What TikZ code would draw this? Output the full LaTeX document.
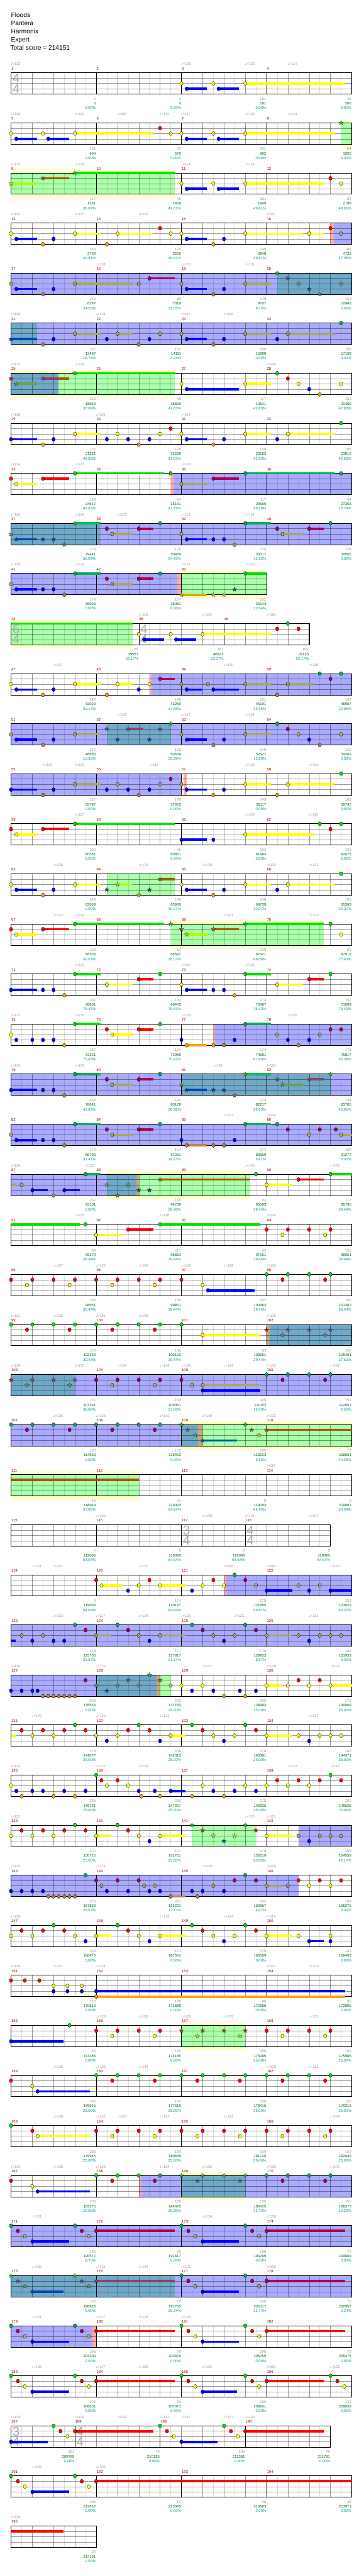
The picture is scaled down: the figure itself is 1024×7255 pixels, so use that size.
\documentclass[tikz,border=0pt]{standalone}
\usepackage{fontspec}
\setmainfont{Liberation Sans}
\newfontfamily\notefont{DejaVu Sans}

\definecolor{cG}{HTML}{00E000}
\definecolor{cR}{HTML}{FF0000}
\definecolor{cY}{HTML}{FFFF00}
\definecolor{cB}{HTML}{0000FF}
\definecolor{cO}{HTML}{FFA500}
\definecolor{dG}{HTML}{00B050}
\definecolor{dR}{HTML}{AA0050}
\definecolor{dY}{HTML}{A8A858}
\definecolor{dO}{HTML}{C08048}
\definecolor{sG}{HTML}{00E000}
\definecolor{sR}{HTML}{AA5500}
\definecolor{sY}{HTML}{AAFF00}
\definecolor{sB}{HTML}{0055AA}
\definecolor{sO}{HTML}{DDAA00}
\definecolor{tR}{HTML}{884466}
\definecolor{tY}{HTML}{6AA050}
\definecolor{tB}{HTML}{0044BB}
\definecolor{tO}{HTML}{887744}
\definecolor{tG}{HTML}{00C060}
\definecolor{rB}{HTML}{AAAAFF}
\definecolor{rT}{HTML}{70A8C8}
\definecolor{rG}{HTML}{AAFFAA}
\definecolor{rY}{HTML}{FFFFCC}
\definecolor{rP}{HTML}{FFAAAA}
\definecolor{rK}{HTML}{C8A878}
\definecolor{mred}{HTML}{990000}
\definecolor{tgray}{HTML}{999999}
\definecolor{sgreen}{HTML}{006600}
\definecolor{steal}{HTML}{009999}

\tikzset{
  mnum/.style={anchor=base west, inner sep=0pt, text=mred, font=\fontsize{10.5}{10.5}\selectfont},
  tempo/.style={anchor=base west, inner sep=0pt, text=tgray, font=\fontsize{10}{10}\selectfont},
  sc1/.style={anchor=base east, inner sep=0pt, text=tgray, font=\fontsize{10.5}{10.5}\selectfont},
  sc2/.style={anchor=base east, inner sep=0pt, text=sgreen, font=\fontsize{10.5}{10.5}\selectfont},
  sc3/.style={anchor=base east, inner sep=0pt, text=steal, font=\fontsize{10.5}{10.5}\selectfont},
  title/.style={anchor=base west, inner sep=0pt, font=\fontsize{18}{18}\selectfont},
  tsigtext/.style={inner sep=0pt, text=black!33, font=\fontsize{36}{36}\selectfont},
  eighthline/.style={black, opacity=0.13, line width=0.8pt},
  beatline/.style={black, opacity=0.4, line width=0.8pt},
  laneline/.style={black, opacity=0.4, line width=0.8pt},
  barline/.style={black, line width=0.8pt},
  staffframe/.style={black, line width=1.3pt},
}

\newcommand\row[2]{\begin{scope}[shift={(0,{205+141*(#1-1)})}]#2\end{scope}}
\newcommand\staff[2]{%
  \foreach \p in {2,6,...,#1} \draw[eighthline] ({31+15*\p},0) -- ({31+15*\p},60);
  \foreach \p in {4,8,...,#1} \draw[beatline] ({31+15*\p},0) -- ({31+15*\p},60);
  \foreach \k in {15,30,45} \draw[laneline] (31,\k) -- ({31+15*#1},\k);
  \foreach \p in {#2} \draw[barline] ({31+15*\p},0) -- ({31+15*\p},60);
  \draw[staffframe] (31,0) rectangle ({31+15*#1},60);}
\newcommand\region[3]{\fill[#1] ({31+15*#2},0) rectangle ({31+15*#3},60);}
\newcommand\band[2]{\fill[rY] ({31+15*#1},-10) rectangle ({31+15*#2},71);}
\newcommand\sustain[4]{\fill[#1] ({31+15*#3},{15*#2-3.3}) rectangle ({31+15*#4},{15*#2+3.3});}
\newcommand\notes[3]{\foreach \p in {#3} \filldraw[fill=#1, draw=black, line width=0.6pt] ({31+15*\p},{15*#2}) ellipse (4.7 and 5.5);}
\newcommand\stars[3]{\foreach \p in {#3} \filldraw[fill=#1, draw=black!80, line width=0.5pt] ({31+15*\p},{15*#2})
  +(-90:6.5) -- +(-54:2.7) -- +(-18:6.5) -- +(18:2.7) -- +(54:6.5) -- +(90:2.7) -- +(126:6.5) -- +(162:2.7) -- +(198:6.5) -- +(234:2.7) -- cycle;}
\newcommand\tsig[3]{\node[tsigtext] at ({31+15*#1+14},16) {#2}; \node[tsigtext] at ({31+15*#1+14},45) {#3};}
\newcommand\bars[1]{\foreach \p/\m in {#1} \node[mnum] at ({31+15*\p+1},-8) {\m};}
\newcommand\tempos[1]{\foreach \p/\v in {#1} \node[tempo] at ({31+15*\p-1},-21) {{\notefont ♩}=\v};}
\newcommand\scores[1]{\foreach \p/\a/\b/\c in {#1} {
  \node[sc1] at ({31+15*\p-1},77) {\a};
  \node[sc2] at ({31+15*\p-1},90) {\b};
  \node[sc3] at ({31+15*\p-1},103) {\c\%};}}

\begin{document}
\begin{tikzpicture}[x=1pt, y=-1pt]
\fill[white] (0,0) rectangle (1024,7255);
\useasboundingbox (0,0) rectangle (1024,7255);
\node[title] at (31,49) {Floods};
\node[title] at (31,72) {Pantera};
\node[title] at (31,95) {Harmonix};
\node[title] at (31,118) {Expert};
\node[title] at (29,141) {Total score = 214151};

\row{1}{
\staff{64}{0,16,32,48,64}
\tsig{0}{4}{4}
\sustain{cB}{3}{33}{36.8}\sustain{cB}{3}{39}{42.8}\sustain{cY}{2}{44}{62.8}
\notes{cY}{2}{32,38,44}\notes{cB}{3}{33,39}
\bars{0/1,16/2,32/3,48/4}
\tempos{0/113,32/108,44/122,52/114}
\scores{16/0/0/0.00,32/0/0/0.00,48/161/161/0.00,64/45/206/0.00}
}
\row{2}{
\band{62}{64}\region{rG}{62}{64}
\staff{64}{0,16,32,48,64}
\sustain{cB}{3}{1}{4.9}\sustain{cB}{3}{7}{10.9}\sustain{cY}{2}{12}{26.8}\sustain{cB}{3}{33}{36.8}\sustain{cB}{3}{39}{42.8}\sustain{cY}{2}{44}{60.8}
\notes{cY}{2}{0,6,12,30,32,38,44}\notes{cB}{3}{1,7,33,39}\notes{cR}{1}{28}
\stars{sG}{0}{62}
\bars{0/5,16/6,32/7,48/8}
\tempos{0/116,12/119,20/116,28/113,32/117,44/121,52/118}
\scores{16/161/404/0.00,32/83/570/0.00,48/161/892/0.00,64/64/1020/0.00}
}
\row{3}{
\band{0}{30.8}\region{rG}{0}{30.8}
\staff{64}{0,16,32,48,64}
\sustain{sY}{2}{0}{4.9}\sustain{sR}{1}{6}{10.9}\sustain{cG}{0}{12}{30.8}\sustain{cB}{3}{33}{36.8}\sustain{cB}{3}{39}{42.8}\sustain{cY}{2}{44}{58.8}
\stars{sY}{2}{0}\stars{sR}{1}{6}\stars{sG}{0}{12}
\notes{cY}{2}{32,38,44,62}\notes{cB}{3}{33,39}\notes{cR}{1}{60}
\bars{0/9,16/10,32/11,48/12}
\tempos{0/122,12/118,32/114,44/118}
\scores{16/117/1331/36.87,32/45/1466/49.61,48/161/1949/49.61,64/83/2198/49.61}
}
\row{4}{
\region{rP}{60}{60.6}\region{rB}{60.6}{64}
\staff{64}{0,16,32,48,64}
\sustain{cB}{3}{1}{4.9}\sustain{cY}{2}{12}{16.8}\sustain{cY}{2}{20}{26.8}\sustain{cB}{3}{33}{36.8}\sustain{cY}{2}{44}{54.8}\sustain{cY}{2}{56}{58.8}
\notes{cY}{2}{0,12,20,30,32,44,56}\notes{cB}{3}{1,8,33,40}\notes{cO}{4}{6,18,38}\notes{cR}{1}{28,60}\notes{dY}{2}{62}
\bars{0/13,16/14,32/15,48/16}
\tempos{0/114,12/117,24/116,48/117}
\scores{16/149/2769/49.61,32/124/3265/49.61,48/149/3948/49.61,64/105/4723/47.05}
}
\row{5}{
\region{rB}{0}{50}\region{rT}{50}{64}
\staff{64}{0,16,32,48,64}
\sustain{cB}{3}{1}{4.9}\sustain{dY}{2}{12}{22.8}\sustain{dR}{1}{26}{30.8}\sustain{cB}{3}{33}{36.8}\sustain{dY}{2}{44}{48.8}
\notes{dY}{2}{0,12,24,32,44}\notes{cB}{3}{1,8,33,40}\notes{dO}{4}{6,38}\notes{dR}{1}{26}
\stars{sG}{0}{50}\stars{tR}{1}{52}\stars{tY}{2}{54,62}\stars{tB}{3}{56}\stars{tO}{4}{58}
\bars{0/17,16/18,32/19,48/20}
\tempos{16/118,32/115,44/119}
\scores{16/149/6287/34.55,32/86/7319/22.05,48/149/9107/9.55,64/153/10943/0.00}
}
\row{6}{
\region{rB}{0}{64}\region{rT}{0}{4.9}
\staff{64}{0,16,32,48,64}
\sustain{tB}{3}{0}{4.9}\sustain{dY}{2}{12}{16.8}\sustain{dY}{2}{20}{22.8}\sustain{cB}{3}{33}{36.8}\sustain{dY}{2}{44}{48.8}\sustain{dY}{2}{52}{60.8}
\stars{tB}{3}{0}
\notes{dO}{4}{6,24,38}\notes{cB}{3}{8,18,26,33,40,50}\notes{dY}{2}{12,20,28,32,44,52}\notes{dG}{0}{62}
\bars{0/21,16/22,32/23,48/24}
\tempos{0/116,16/118,32/115,40/118}
\scores{16/127/12467/16.74,32/137/14111/4.24,48/149/15899/0.00,64/105/17159/0.00}
}
\row{7}{
\band{0}{30.8}\region{rT}{0}{8.9}\region{rG}{8.9}{30.8}
\staff{64}{0,16,32,48,64}
\sustain{tY}{2}{1}{4.9}\sustain{tR}{1}{6}{8.9}\sustain{sR}{1}{8.9}{10.9}\sustain{cG}{0}{12}{30.8}\sustain{cB}{3}{33}{42.8}\sustain{cY}{2}{44}{48.8}
\stars{cR}{1}{0}\stars{tY}{2}{1}\stars{tR}{1}{6}\stars{sG}{0}{12}
\notes{cY}{2}{32,44,54,62}\notes{cB}{3}{33,56}\notes{cG}{0}{50}\notes{cR}{1}{52}\notes{cO}{4}{58}
\bars{0/25,16/26,32/27,48/28}
\tempos{0/122,12/118,48/120}
\scores{16/139/18569/30.09,32/45/18839/42.83,48/117/19541/42.83,64/153/20459/42.83}
}
\row{8}{
\staff{64}{0,16,32,48,64}
\sustain{cB}{3}{0}{4.9}\sustain{cY}{2}{12}{16.8}\sustain{cB}{3}{33}{36.8}\sustain{cY}{2}{44}{48.8}\sustain{cY}{2}{52}{60.8}
\notes{cB}{3}{0,8,18,22,26,33,40,50}\notes{cO}{4}{6,24,38}\notes{cY}{2}{12,20,28,32,44,52}\notes{cR}{1}{30}\notes{cG}{0}{62}
\bars{0/29,16/30,32/31,48/32}
\tempos{0/118,16/119,32/118}
\scores{16/127/21221/42.83,32/178/22289/42.83,48/149/23183/42.83,64/105/23813/42.83}
}
\row{9}{
\region{rP}{30}{30.6}\region{rB}{30.6}{64}
\staff{64}{0,16,32,48,64}
\sustain{cY}{2}{1}{4.9}\sustain{cR}{1}{6}{10.9}\sustain{cG}{0}{12}{28.8}\sustain{dY}{2}{32}{36.8}\sustain{dR}{1}{38}{42.8}\sustain{dG}{0}{44}{60.8}
\notes{cR}{1}{0,6}\notes{cY}{2}{1}\notes{cG}{0}{12,30}\notes{dY}{2}{32}\notes{dR}{1}{38}\notes{dG}{0}{44,62}
\bars{0/33,16/34,32/35,48/36}
\tempos{0/124,12/121,32/124}
\scores{16/139/24647/42.83,32/64/25181/41.79,48/117/26585/29.29,64/64/27353/16.79}
}
\row{10}{
\region{rB}{0}{64}\region{rT}{0}{16.8}
\staff{64}{0,16,32,48,64}
\sustain{tB}{3}{1}{4.9}\sustain{tG}{0}{12}{16.8}\sustain{dY}{2}{19}{22.8}\sustain{dR}{1}{24}{26.8}\sustain{cB}{3}{33}{36.8}\sustain{dG}{0}{44}{48.8}\sustain{dY}{2}{51}{54.8}\sustain{dR}{1}{56}{58.8}
\stars{tY}{2}{0}\stars{tB}{3}{1,6,8}\stars{tO}{4}{10}\stars{sG}{0}{12}
\notes{dR}{1}{18,24,50,56}\notes{dY}{2}{19,32,51}\notes{dG}{0}{28,44,60}\notes{cB}{3}{33,38,40}\notes{dO}{4}{42}
\bars{0/37,16/38,32/39,48/40}
\tempos{0/119,12/124,20/123,32/121,44/124}
\scores{16/174/29441/36.08,32/124/30929/24.42,48/174/33017/11.92,64/124/34505/0.00}
}
\row{11}{
\band{32}{48}\region{rB}{0}{31.2}\region{rP}{31.2}{32}\region{rG}{32}{48}
\staff{48}{0,16,32,48}
\sustain{cB}{3}{1}{4.9}\sustain{dG}{0}{12}{16.8}\sustain{dY}{2}{19}{22.8}\sustain{dR}{1}{24}{26.8}\sustain{sO}{4}{32}{36.8}\sustain{cG}{0}{44}{48}
\notes{dY}{2}{0,19}\notes{cB}{3}{1,6,8}\notes{dO}{4}{10}\notes{dG}{0}{12,28}\notes{dR}{1}{18,24}
\stars{sO}{4}{32,38,40}\stars{sB}{3}{42}\stars{sG}{0}{44}
\bars{0/41,16/42,32/43}
\tempos{0/119,12/124,32/121,44/120}
\scores{16/174/36593/0.00,32/124/38081/0.00,48/152/39143/32.64}
}
\row{12}{
\band{0}{22.8}\region{rG}{0}{22.8}
\staff{56}{0,24,40,56}
\tsig{0}{6}{4}\tsig{24}{4}{4}
\sustain{cG}{0}{0}{22.8}\sustain{cB}{3}{25}{28.8}\sustain{cB}{3}{31}{34.8}\sustain{cY}{2}{36}{48.8}
\notes{cY}{2}{24,30,36}\notes{cB}{3}{25,31}\notes{cR}{1}{50,54}\notes{cG}{0}{52}
\bars{0/44,24/45,40/46}
\tempos{24/116,36/119,48/118}
\scores{24/69/39557/52.17,40/161/40523/52.17,56/102/41135/52.17}
}
\row{13}{
\region{rP}{26}{26.4}\region{rB}{26.4}{64}
\staff{64}{0,16,32,48,64}
\sustain{cB}{3}{1}{4.9}\sustain{cY}{2}{12}{16.8}\sustain{cY}{2}{20}{22.8}\sustain{dR}{1}{28}{30.8}\sustain{cB}{3}{33}{35.8}\sustain{cB}{3}{38}{42.8}\sustain{dY}{2}{44}{48.8}\sustain{dY}{2}{52}{56.8}
\notes{cY}{2}{0,12,20,26}\notes{cB}{3}{1,8,24,33,38}\notes{cO}{4}{6,18}\notes{dR}{1}{28,60}\notes{dY}{2}{32,37,44,52}\notes{dO}{4}{50}\notes{dG}{0}{58,62}
\bars{0/47,16/48,32/49,48/50}
\tempos{8/117,40/120,56/118}
\scores{16/149/42029/52.17,32/146/43259/47.85,48/161/45191/35.35,64/143/46907/22.85}
}
\row{14}{
\region{rB}{0}{64}\region{rT}{18}{30}
\staff{64}{0,16,32,48,64}
\sustain{cB}{3}{1}{4.9}\sustain{dY}{2}{12}{16.8}\sustain{tR}{1}{22}{24.8}\sustain{cB}{3}{33}{36.8}\sustain{dY}{2}{44}{48.8}
\notes{dY}{2}{0,12,32,44,54,62}\notes{cB}{3}{1,8,33,40,56}\notes{dO}{4}{6,38,58}\notes{dG}{0}{50}\notes{dR}{1}{52}
\stars{tR}{1}{18,22,28}\stars{tB}{3}{20,26}\stars{sG}{0}{30}
\bars{0/51,16/52,32/53,48/54}
\tempos{20/120,32/117,44/118}
\scores{16/149/48695/10.35,32/162/50639/25.39,48/149/52427/12.89,64/153/54263/0.39}
}
\row{15}{
\region{rB}{0}{32}\region{rP}{32.4}{33}
\staff{64}{0,16,32,48,64}
\sustain{cB}{3}{0}{4.9}\sustain{dY}{2}{12}{16.8}\sustain{cB}{3}{33}{36.8}\sustain{cY}{2}{44}{48.8}\sustain{cY}{2}{52}{60.8}
\notes{cB}{3}{0,8,18,22,26,33,40}\notes{dO}{4}{6,24}\notes{dY}{2}{12,20,28,32}\notes{dR}{1}{30}\notes{cO}{4}{38,50}\notes{cY}{2}{44,52}\notes{cG}{0}{62}
\bars{0/55,16/56,32/57,48/58}
\tempos{6/113,12/120,26/116,44/122,56/120}
\scores{16/127/55787/0.00,32/178/57923/0.00,48/149/59117/0.00,64/105/59747/0.00}
}
\row{16}{
\staff{64}{0,16,32,48,64}
\sustain{cY}{2}{1}{4.9}\sustain{cR}{1}{6}{10.9}\sustain{cG}{0}{12}{30.8}\sustain{cB}{3}{32}{36.8}\sustain{cY}{2}{44}{56.8}
\notes{cR}{1}{0,6,60}\notes{cY}{2}{1,44}\notes{cG}{0}{12,58,62}\notes{cB}{3}{32,38}
\bars{0/59,16/60,32/61,48/62}
\tempos{12/117,44/120,56/119}
\scores{16/139/60581/0.00,32/45/60851/0.00,48/102/61463/0.00,64/102/62075/0.00}
}
\row{17}{
\region{rG}{18}{30.8}
\staff{64}{0,16,32,48,64}
\sustain{cB}{3}{1}{4.9}\sustain{cY}{2}{12}{16.8}\sustain{sY}{2}{20}{22.8}\sustain{sR}{1}{28}{30.8}\sustain{cB}{3}{33}{36.8}\sustain{cY}{2}{44}{48.8}\sustain{cY}{2}{52}{60.8}
\notes{cY}{2}{0,12,32,44,52}\notes{cB}{3}{1,8,33,40,50}\notes{cO}{4}{6,38}\notes{cG}{0}{62}
\stars{sB}{3}{18,26}\stars{sY}{2}{20}\stars{sO}{4}{24}\stars{sR}{1}{28}
\bars{0/63,16/64,32/65,48/66}
\tempos{8/120,24/118,36/120,48/124,56/121}
\scores{16/149/62969/0.00,32/146/63845/30.07,48/149/64739/30.07,64/105/65369/30.07}
}
\row{18}{
\band{30}{58.8}\region{rG}{30}{58.8}
\staff{64}{0,16,32,48,64}
\sustain{cY}{2}{1}{4.9}\sustain{cR}{1}{6}{10.9}\sustain{cG}{0}{12}{28.8}\sustain{sY}{2}{33}{36.8}\sustain{sR}{1}{38}{42.8}\sustain{cG}{0}{44}{58.8}
\notes{cR}{1}{0,6}\notes{cY}{2}{1,62}\notes{cG}{0}{12,60}
\stars{sG}{0}{30,44}\stars{sR}{1}{32,38}\stars{sY}{2}{33}
\bars{0/67,16/68,32/69,48/70}
\tempos{8/123,12/122,40/121,56/120}
\scores{16/139/66203/30.07,32/64/66587/30.07,48/139/67421/66.09,64/83/67919/75.43}
}
\row{19}{
\staff{64}{0,16,32,48,64}
\sustain{cB}{3}{0}{4.9}\sustain{cG}{0}{12}{16.8}\sustain{cY}{2}{18}{22.8}\sustain{cR}{1}{24}{26.8}\sustain{cB}{3}{33}{36.8}\sustain{cG}{0}{44}{48.8}\sustain{cY}{2}{50}{54.8}\sustain{cR}{1}{56}{58.8}
\notes{cB}{3}{0,6,8,33,38,40}\notes{cO}{4}{10,42}\notes{cG}{0}{12,28,44,60}\notes{cY}{2}{18,32,50}\notes{cR}{1}{24,56}
\bars{0/71,16/72,32/73,48/74}
\tempos{12/123,32/119,44/125}
\scores{16/152/68831/75.43,32/102/69443/75.43,48/174/70487/75.43,64/102/71099/75.43}
}
\row{20}{
\region{rP}{38}{38.3}\region{rB}{38.3}{64}
\staff{64}{0,16,32,48,64}
\sustain{cG}{0}{12}{16.8}\sustain{cY}{2}{19}{22.8}\sustain{cR}{1}{24}{26.8}\sustain{cO}{4}{33}{36.8}\sustain{dG}{0}{44}{48.8}
\notes{cY}{2}{0,19}\notes{cB}{3}{1,4,6,8,32}\notes{cO}{4}{10,33,38}\notes{cG}{0}{12,28}\notes{cR}{1}{18,24}\notes{dO}{4}{40,54}\notes{cB}{3}{42,52,56}\notes{dG}{0}{44}\notes{dY}{2}{50,58}\notes{dR}{1}{60,62}
\bars{0/75,16/76,32/77,48/78}
\tempos{0/122,12/125,32/123,52/125}
\scores{16/187/72221/75.43,32/124/72965/75.43,48/174/74681/67.86,64/178/76817/55.36}
}
\row{21}{
\region{rB}{0}{64}\region{rT}{32}{60}
\staff{64}{0,16,32,48,64}
\sustain{cB}{3}{0}{4.9}\sustain{dG}{0}{12}{16.8}\sustain{dY}{2}{19}{22.8}\sustain{dR}{1}{24}{26.8}\sustain{tB}{3}{33}{36.8}\sustain{tG}{0}{44}{48.8}\sustain{tY}{2}{51}{54.8}\sustain{tR}{1}{56}{58.8}
\notes{cB}{3}{0,6,8}\notes{dO}{4}{10}\notes{dG}{0}{12,28}\notes{dR}{1}{18,24}\notes{dY}{2}{19}
\stars{tY}{2}{32,51}\stars{tB}{3}{33,38,40}\stars{tO}{4}{42}\stars{sG}{0}{44,60}\stars{tR}{1}{50,56}
\bars{0/79,16/80,32/81,48/82}
\tempos{0/120,12/124,38/122,48/124}
\scores{16/152/78641/42.86,32/124/80129/30.36,48/174/82217/24.65,64/124/83705/43.91}
}
\row{22}{
\region{rB}{0}{64}
\staff{64}{0,16,32,48,64}
\sustain{cB}{3}{1}{4.9}\sustain{dG}{0}{12}{16.8}\sustain{dY}{2}{19}{22.8}\sustain{dR}{1}{24}{26.8}\sustain{dO}{4}{33}{36.8}\sustain{dG}{0}{44}{48.8}\sustain{dY}{2}{62}{64}
\notes{dY}{2}{0,19,56,62}\notes{cB}{3}{1,6,8,32,42}\notes{dO}{4}{10,33,38,40}\notes{dG}{0}{12,28,44,50}\notes{dR}{1}{18,24,52,58,61}
\bars{0/83,16/84,32/85,48/86}
\tempos{40/123,48/124}
\scores{16/174/85793/31.41,32/124/87281/18.91,48/174/89369/6.41,64/159/91277/0.00}
}
\row{23}{
\band{18}{44.9}\region{rB}{0}{18}\region{rT}{18}{23.6}\region{rK}{23.6}{24}\region{rG}{24}{44.9}
\staff{64}{0,16,32,48,64}
\sustain{dY}{2}{0}{1}\sustain{cB}{3}{4}{6.9}\sustain{cB}{3}{10}{12.9}\sustain{dG}{0}{14}{16.8}\sustain{sR}{1}{28}{44.9}\sustain{cY}{2}{48}{52.8}\sustain{cR}{1}{54}{58.8}\sustain{cG}{0}{60}{64}
\notes{dY}{2}{2}\notes{cB}{3}{4,10}\notes{dO}{4}{8}\notes{dG}{0}{14}\notes{cG}{0}{46,60}\notes{cY}{2}{48}\notes{cR}{1}{54}
\stars{tY}{2}{18,22}\stars{tO}{4}{20}\stars{tB}{3}{24,26}\stars{sR}{1}{28}
\bars{0/87,16/88,32/89,48/90}
\tempos{0/126,14/122,44/125,60/121}
\scores{16/152/93101/0.00,32/165/94709/28.40,48/64/95093/39.44,64/117/95795/39.44}
}
\row{24}{
\staff{64}{0,16,32,48,64}
\sustain{cG}{0}{0}{12.9}\sustain{cY}{2}{16}{20.8}\sustain{cR}{1}{22}{26.8}\sustain{cG}{0}{28}{46.8}
\notes{cG}{0}{14,28}\notes{cY}{2}{16,51,59}\notes{cR}{1}{22,48,52,56,60}
\bars{0/91,16/92,32/93,48/94}
\tempos{12/125,28/118,48/134}
\scores{16/64/96179/39.44,32/117/96881/39.44,48/45/97151/39.44,64/150/98051/39.44}
}
\row{25}{
\staff{64}{0,16,32,48,64}
\sustain{cB}{3}{37}{45.8}
\notes{cR}{1}{0,4,8,12,16,20,24,28,32,51,59}\notes{cY}{2}{3,11,19,27,36}\notes{cB}{3}{37}\notes{cG}{0}{48,52,56,60}
\bars{0/95,16/96,32/97,48/98}
\tempos{8/137,16/130,24/142,32/136,40/139,48/134}
\scores{16/150/98951/39.44,32/150/99851/39.44,48/102/100463/39.44,64/150/101363/39.44}
}
\row{26}{
\region{rK}{48}{48.6}\region{rT}{48.6}{64}
\staff{64}{0,16,32,48,64}
\sustain{cY}{2}{36}{46.8}
\notes{cG}{0}{0,4,8,12,16,20,24,28,32}\notes{cR}{1}{3,11,19,27}\notes{cY}{2}{36}
\stars{cR}{1}{48}\stars{tR}{1}{52,56,60}\stars{tY}{2}{51,59}
\bars{0/99,16/100,32/101,48/102}
\tempos{0/131,8/136,16/131,24/138,48/135}
\scores{16/150/102263/39.44,32/150/103163/39.44,48/83/103661/39.44,64/150/105461/27.50}
}
\row{27}{
\region{rB}{0}{64}\region{rT}{0}{12}
\staff{64}{0,16,32,48,64}
\sustain{dY}{2}{36}{46.8}\sustain{cB}{3}{36}{46.8}
\stars{cR}{1}{0}\stars{tR}{1}{4,8,12}\stars{tY}{2}{3,11}
\notes{dR}{1}{16,20,24,28,32,51,59}\notes{dY}{2}{19,27,34,36}\notes{cB}{3}{36}\notes{dG}{0}{48,52,56,60}
\bars{0/103,16/104,32/105,48/106}
\tempos{0/139,12/133,20/134,28/148,32/135,40/142,48/133,60/142}
\scores{16/150/107261/40.00,32/150/109061/27.50,48/166/111053/15.00,64/150/112853/2.50}
}
\row{28}{
\band{32}{64}\region{rB}{0}{32}\region{rT}{32}{35.1}\region{rK}{35.1}{36}\region{rG}{36}{64}
\staff{64}{0,16,32,48,64}
\sustain{sB}{3}{36}{42.5}\sustain{sR}{1}{48}{64}
\notes{dG}{0}{0,4,8,12,16,20,24,28}\notes{dR}{1}{3,11,19,27}
\stars{sG}{0}{32,44}\stars{tR}{1}{33.2}\stars{tY}{2}{34.6}\stars{sB}{3}{36}\stars{sR}{1}{45.2,48}\stars{sY}{2}{46.6}
\bars{0/107,16/108,32/109,48/110}
\tempos{8/136,16/138,28/142,36/140,48/123}
\scores{16/150/114653/0.00,32/150/116453/0.00,48/195/118223/5.65,64/73/118661/44.25}
}
\row{29}{
\band{0}{24}\region{rG}{0}{24}
\staff{64}{0,16,32,48,64}
\sustain{sR}{1}{0}{24}
\bars{0/111,16/112,32/113,48/114}
\tempos{48/117}
\scores{16/48/118949/57.85,32/24/119093/64.64,48/0/119093/64.64,64/0/119093/64.64}
}
\row{30}{
\staff{60}{0,16,32,44,60}
\tsig{32}{3}{4}\tsig{44}{4}{4}
\bars{0/115,16/116,32/117,44/118}
\tempos{16/109,36/128,44/121,56/107}
\scores{16/0/119093/64.64,32/0/119093/64.64,44/0/119093/64.64,60/0/119093/64.64}
}
\row{31}{
\region{rP}{40}{40.5}\region{rB}{40.5}{64}
\staff{64}{0,16,32,48,64}
\sustain{cY}{2}{17}{20.8}\sustain{cY}{2}{28}{32.8}\sustain{cB}{3}{48}{52.8}\sustain{cB}{3}{60}{64}
\notes{cR}{1}{16,26,38}\notes{cY}{2}{17,24,28,36,40}\notes{cB}{3}{22,34,48,56,60}\notes{dG}{0}{42}\notes{dR}{1}{44}\notes{dY}{2}{46,54,58}
\bars{0/119,16/120,32/121,48/122}
\tempos{4/121,8/114,24/120,40/126,48/119,60/120}
\scores{16/0/119093/64.64,32/174/120137/64.64,48/178/121805/58.87,64/152/123629/46.37}
}
\row{32}{
\region{rB}{0}{64}
\staff{64}{0,16,32,48,64}
\sustain{cB}{3}{0}{0.9}\sustain{dY}{2}{16}{18.8}\sustain{dY}{2}{28}{32.8}\sustain{dY}{2}{48}{52.8}
\notes{dY}{2}{2,6,16,24,28,38,42,48,54,58,60,62}\notes{cB}{3}{4,8,10,26,40,56}\notes{dG}{0}{12,20,34,44}\notes{dR}{1}{14,22,36,46}
\bars{0/123,16/124,32/125,48/126}
\tempos{8/123,16/117,24/124,32/120,42/123,56/125}
\scores{16/178/125765/33.87,32/171/127817/21.37,48/178/129953/8.87,64/165/131933/0.00}
}
\row{33}{
\region{rB}{0}{16}\region{rT}{16}{27.3}\region{rK}{27.3}{28}\region{rG}{28}{30}
\staff{64}{0,16,32,48,64}
\sustain{cY}{2}{48}{50.8}\sustain{cY}{2}{60}{64}
\notes{cB}{3}{0,2,4,5}\notes{dO}{4}{6,7,8,9,10,11,12}\notes{dR}{1}{14}
\stars{tY}{2}{16,20,24}\stars{tB}{3}{18}\stars{tR}{1}{22}\stars{sG}{0}{26}\stars{sR}{1}{28}\stars{sY}{2}{30}
\notes{cY}{2}{32,36,48,52,56,60}\notes{cB}{3}{34,38,43,46}\notes{cO}{4}{40,44}\notes{cR}{1}{54,58}
\bars{0/127,16/128,32/129,48/130}
\tempos{0/130,16/122,36/127,48/120,60/122}
\scores{16/300/135533/0.00,32/200/137783/25.00,48/200/138983/25.00,64/171/140009/25.00}
}
\row{34}{
\staff{64}{0,16,32,48,64}
\sustain{cY}{2}{0}{0.9}\sustain{cY}{2}{30}{32.8}\sustain{cY}{2}{48}{52.8}
\notes{cR}{1}{2,6,10,14,22,26,36,46}\notes{cY}{2}{4,8,16,20,30,38,42,48,54,58,60,62}\notes{cG}{0}{12,24,34,44}\notes{cB}{3}{18,28,40,56}
\bars{0/131,16/132,32/133,48/134}
\tempos{4/123,16/120,28/122,56/127}
\scores{16/178/141077/25.00,32/206/142313/25.00,48/178/143381/25.00,64/165/144371/25.00}
}
\row{35}{
\staff{64}{0,16,32,48,64}
\sustain{cB}{3}{30}{32.8}
\notes{cY}{2}{0,18,22,36,44,48,52,56}\notes{cB}{3}{1,4,6,10,14,24,27,30,38,42,46}\notes{cO}{4}{2,8,12,24.5,28,34,40}\notes{cG}{0}{16,60}\notes{cR}{1}{17,20,50,54,58,62}
\bars{0/135,16/136,32/137,48/138}
\tempos{0/124,16/122,24/123,52/121,60/118}
\scores{16/225/145721/25.00,32/256/147257/25.00,48/178/148325/25.00,64/200/149525/25.00}
}
\row{36}{
\region{rG}{34}{46}\region{rB}{54}{64}
\staff{64}{0,16,32,48,64}
\sustain{cY}{2}{16}{18.8}\sustain{cY}{2}{28}{32.8}\sustain{cY}{2}{48}{52.8}
\notes{cY}{2}{0,4,8,16,24,28,48}\notes{cR}{1}{2,6,10,14,22}\notes{cG}{0}{12,20}\notes{cB}{3}{26,56}\notes{dY}{2}{54,58,60,62}
\stars{sG}{0}{34,44}\stars{sR}{1}{36}\stars{sY}{2}{38,42}\stars{sB}{3}{40}\stars{cR}{1}{46}
\bars{0/139,16/140,32/141,48/142}
\tempos{0/123,44/126,48/121}
\scores{16/200/150725/25.00,32/171/151751/25.00,48/178/152819/50.00,64/165/154559/42.17}
}
\row{37}{
\region{rB}{0}{54}
\staff{64}{0,16,32,48,64}
\sustain{dO}{4}{30}{32.8}\sustain{dY}{2}{48}{50.8}
\notes{cB}{3}{0,2,4,6,18,22,26,28,34,36,40}\notes{dO}{4}{7,8,9,10,11,12,30,35}\notes{dG}{0}{14,44}\notes{dR}{1}{16,20,24,42,46}\notes{dY}{2}{17,25,27,38,48,52}\notes{cR}{1}{54,58,62}\notes{cY}{2}{56,60}
\bars{0/143,16/144,32/145,48/146}
\tempos{0/125,16/121,36/124,48/120}
\scores{16/275/157859/29.67,32/281/161231/17.17,48/203/163667/4.67,64/184/165275/0.00}
}
\row{38}{
\staff{64}{0,16,32,48,64}
\sustain{cY}{2}{16}{18.8}\sustain{cY}{2}{28}{32.8}\sustain{cY}{2}{48}{52.8}\sustain{cB}{3}{56}{58.8}
\notes{cY}{2}{0,4,12,16,24,28,38,42,48,54,60}\notes{cR}{1}{2,6,10,22,36,46}\notes{cG}{0}{8,20,34,44}\notes{cB}{3}{14,26,40,56,60}
\bars{0/147,16/148,32/149,48/150}
\tempos{0/123,28/126,40/124,48/119}
\scores{16/200/166475/0.00,32/171/167501/0.00,48/178/168569/0.00,64/149/169463/0.00}
}
\row{39}{
\staff{64}{0,16,32,48,64}
\sustain{cB}{3}{16}{62.8}\sustain{cO}{4}{16}{62.8}
\notes{cR}{1}{0,2.6,5.3}\notes{cY}{2}{8,10.6,13.3}\notes{cB}{3}{8,10.6,13.3,16}\notes{cO}{4}{16}
\bars{0/151,16/152,32/153,48/154}
\tempos{0/120,8/111,16/118,48/121,56/129}
\scores{16/225/170813/0.00,32/146/171689/0.00,48/96/172265/0.00,64/90/172805/0.00}
}
\row{40}{
\band{32}{44}\region{rG}{32}{44}
\staff{64}{0,16,32,48,64}
\sustain{cB}{3}{0}{9.9}
\notes{cB}{3}{0}\notes{cG}{0}{11}\notes{cR}{1}{16,20,24,28,48,52,56,60}\notes{cY}{2}{19,27,51,59}
\stars{sR}{1}{32,36,40,44}\stars{sY}{2}{35,43}
\bars{0/155,16/156,32/157,48/158}
\tempos{16/128,24/132,32/128,40/132,56/135}
\scores{16/80/173285/0.00,32/150/174185/0.00,48/150/175085/25.00,64/150/175985/25.00}
}
\row{41}{
\staff{64}{0,16,32,48,64}
\sustain{cB}{3}{5}{14.8}
\notes{cR}{1}{0,19,27,35,43,51,59}\notes{cY}{2}{4}\notes{cB}{3}{5}\notes{cG}{0}{16,20,24,28,32,36,40,44,48,52,56,60}
\bars{0/159,16/160,32/161,48/162}
\tempos{8/138,16/128,24/134,48/130,56/136}
\scores{16/105/176615/25.00,32/150/177515/25.00,48/150/178415/25.00,64/150/179315/25.00}
}
\row{42}{
\staff{64}{0,16,32,48,64}
\sustain{cY}{2}{5}{14.8}
\notes{cG}{0}{0}\notes{cR}{1}{4,16,20,24,28,32,36,40,44,48,52,56,60}\notes{cY}{2}{5,19,27,35,43,51,59}
\bars{0/163,16/164,32/165,48/166}
\tempos{8/139,16/132,20/127,28/137,40/133,60/144}
\scores{16/105/179945/25.00,32/150/180845/25.00,48/150/181745/25.00,64/150/182645/25.00}
}
\row{43}{
\band{32}{44}\region{rP}{24}{24.5}\region{rB}{24.5}{64}\region{rT}{32}{44}
\staff{64}{0,16,32,48,64}
\sustain{cB}{3}{5}{14.8}
\notes{cR}{1}{0,19}\notes{cY}{2}{4}\notes{cB}{3}{5}\notes{cG}{0}{16,20,24}\notes{dR}{1}{27,51,59}\notes{dG}{0}{28,48,52,56,60}
\stars{sG}{0}{32,36,40,44}\stars{tR}{1}{35,43}
\bars{0/167,16/168,32/169,48/170}
\tempos{0/135,8/138,16/129,28/134,36/136,48/130,60/140}
\scores{16/105/183275/25.00,32/150/184625/19.20,48/150/186425/31.70,64/150/188375/19.20}
}
\row{44}{
\region{rB}{0}{64}
\staff{64}{0,16,32,48,64}
\sustain{cB}{3}{4}{10.9}\sustain{dR}{1}{16}{30.8}\sustain{cB}{3}{36}{42.8}\sustain{dR}{1}{48}{62.8}
\notes{dG}{0}{0,12,32,44}\notes{dR}{1}{1.3,13.3,16,33.3,45.3,48}\notes{dY}{2}{2.6,14.6,34.6,46.6}\notes{cB}{3}{4,36}
\bars{0/171,16/172,32/173,48/174}
\tempos{4/131,36/134,48/130}
\scores{16/196/190577/6.70,32/70/191417/0.00,48/196/193769/0.00,64/70/194609/0.00}
}
\row{45}{
\region{rB}{0}{64}\region{rT}{0}{30.8}
\staff{64}{0,16,32,48,64}
\sustain{tB}{3}{4}{9.9}\sustain{tR}{1}{16}{30.8}\sustain{cB}{3}{36}{42.8}\sustain{dR}{1}{48}{62.8}
\stars{sG}{0}{0,12}\stars{tR}{1}{1.3,13.3,16}\stars{tY}{2}{2.6,14.6}\stars{tB}{3}{4}
\notes{dG}{0}{32,44}\notes{dR}{1}{33.3,45.3,48}\notes{dY}{2}{34.6,46.6}\notes{cB}{3}{36}
\bars{0/175,16/176,32/177,48/178}
\tempos{4/135,16/121,24/124,32/132,48/135}
\scores{16/193/196925/0.00,32/70/197765/25.24,48/196/200117/12.74,64/70/200957/0.24}
}
\row{46}{
\region{rB}{0}{15.3}\region{rP}{15.3}{16}
\staff{64}{0,16,32,48,64}
\sustain{cB}{3}{4}{10.9}\sustain{cR}{1}{16}{30.8}\sustain{cB}{3}{36}{42.8}\sustain{cR}{1}{48}{62.8}
\notes{dG}{0}{0,12}\notes{dR}{1}{1.3,13.3}\notes{dY}{2}{2.6,14.6}\notes{cB}{3}{4,36}\notes{cR}{1}{16,33.3,45.3,48}\notes{cG}{0}{32,44}\notes{cY}{2}{34.6,46.6}
\bars{0/179,16/180,32/181,48/182}
\tempos{4/131,16/117,24/124,32/133}
\scores{16/196/203309/0.00,32/70/203879/0.00,48/196/205055/0.00,64/70/205475/0.00}
}
\row{47}{
\staff{64}{0,16,32,48,64}
\sustain{cB}{3}{4}{10.9}\sustain{cR}{1}{16}{30.8}\sustain{cB}{3}{36}{42.5}\sustain{cR}{1}{48}{58.8}
\notes{cG}{0}{0,12,32,44,60}\notes{cR}{1}{1.3,13.3,16,33.3,45.3,48,61.3}\notes{cY}{2}{2.6,14.6,34.6,46.6,62.6}\notes{cB}{3}{4,36}
\bars{0/183,16/184,32/185,48/186}
\tempos{4/132,16/117,24/126,36/124,48/101,60/121}
\scores{16/196/206651/0.00,32/70/207071/0.00,48/195/208241/0.00,64/133/209039/0.00}
}
\row{48}{
\staff{60}{0,12,28,44,60}
\tsig{0}{3}{4}\tsig{12}{4}{4}
\sustain{cB}{3}{0}{6.9}\sustain{cR}{1}{12}{26.8}\sustain{cB}{3}{32}{38.8}\sustain{cR}{1}{44}{58.8}
\notes{cB}{3}{0,32}\notes{cG}{0}{8,28,40}\notes{cR}{1}{9.3,12,29.3,41.3,44}\notes{cY}{2}{10.6,30.6,42.6}
\bars{0/187,12/188,28/189,44/190}
\tempos{0/128,12/118,20/122,28/131,32/116,40/137,44/132}
\scores{12/121/209765/0.00,28/70/210185/0.00,44/196/211361/0.00,60/70/211781/0.00}
}
\row{49}{
\staff{64}{0,16,32,48,64}
\sustain{cB}{3}{4}{10.9}\sustain{cR}{1}{16}{64}
\notes{cG}{0}{0,12}\notes{cR}{1}{1.3,13.3,16}\notes{cY}{2}{2.6,14.6}\notes{cB}{3}{4}
\bars{0/191,16/192,32/193,48/194}
\tempos{4/126,16/109}
\scores{16/196/212957/0.00,32/73/213395/0.00,48/48/213683/0.00,64/48/213971/0.00}
}
\row{50}{
\staff{16}{0,16}
\sustain{cR}{1}{0}{9.9}
\bars{0/195}
\tempos{0/128}
\scores{16/30/214151/0.00}
}
\end{tikzpicture}
\end{document}
